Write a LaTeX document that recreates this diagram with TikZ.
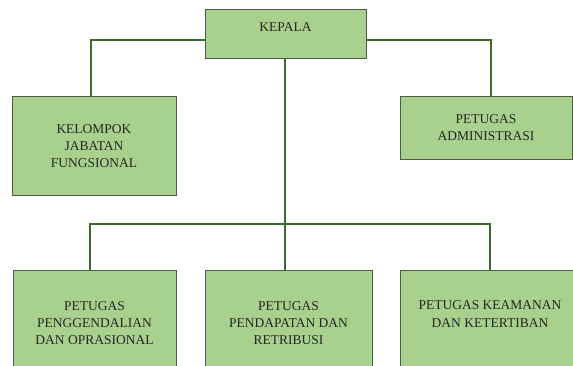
\documentclass[tikz,border=0pt]{standalone}
\usepackage{fontspec}
\setmainfont{Liberation Serif}
\usepackage{tikz}
\usetikzlibrary{positioning}
\definecolor{boxfill}{HTML}{A9D18E}
\definecolor{boxline}{HTML}{4F5B48}
\definecolor{linkgreen}{HTML}{3A6B2A}
\tikzset{unit/.style = {draw=boxline, fill=boxfill, line width=0.8pt, inner sep=2pt,
    align=center, text=black!85, font=\fontsize{13.5}{17.3}\selectfont}}
\tikzset{link/.style = {draw=linkgreen, line width=1.8pt}}

\begin{document}
\begin{tikzpicture}[x=1pt, y=-1pt]
    \useasboundingbox (0, 0) rectangle (573, 365);
    \clip (0, 0) rectangle (573, 365);

    % top of the chart
    \node [unit, minimum width=161, minimum height=49, text height=10pt, text depth=14pt]
      (kepala) at (285.5, 33.5) {KEPALA};
    \node [unit, minimum width=164, minimum height=99] (kelompok) at (94, 146)
      {KELOMPOK\\JABATAN\\FUNGSIONAL};
    \node [unit, minimum width=172, minimum height=63] (admin) at (486, 127.5)
      {PETUGAS\\ADMINISTRASI};

    % lower row, cut by the page edge
    \node [unit, minimum width=163, minimum height=106] (kendali) at (94.5, 323)
      {PETUGAS\\PENGGENDALIAN\\DAN OPRASIONAL};
    \node [unit, minimum width=167, minimum height=106] (pendapatan) at (288.5, 323)
      {PETUGAS\\PENDAPATAN DAN\\RETRIBUSI};
    \node [unit, minimum width=180, minimum height=106, text depth=18pt] (keamanan) at (490, 323)
      {PETUGAS KEAMANAN\\DAN KETERTIBAN};

    \coordinate (bus) at (285, 224);

    \draw [link] ([yshift=-6.5pt]kepala.west) -| ([xshift=-3pt]kelompok.north);
    \draw [link] ([yshift=-6.5pt]kepala.east) -| ([xshift=5pt]admin.north);
    \draw [link] (kepala.south -| bus) -- (bus);
    \draw [link] (bus) -| ([xshift=-4.5pt]kendali.north);
    \draw [link] (bus) -| ([xshift=-3.5pt]pendapatan.north);
    \draw [link] (bus) -| (keamanan.north);
\end{tikzpicture}
\end{document}
